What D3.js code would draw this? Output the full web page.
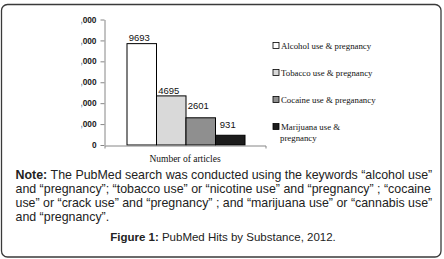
<!DOCTYPE html>
<html>
<head>
<meta charset="utf-8">
<script src="https://cdn.jsdelivr.net/npm/d3@7"></script>
<style>
  body { margin: 0; background: #fff; }
  svg { display: block; }
</style>
</head>
<body>
<svg></svg>
<script>
// values
const categories = ['Alcohol use & pregnancy', 'Tobacco use & pregnancy', 'Cocaine use & preganancy', 'Marijuana use & pregnancy']
const hits = [9693, 4695, 2601, 931]
const yTicks = [0, 2000, 4000, 6000, 8000, 10000, 12000]
const xLabel = ['Number of articles']
const noteLines = [
    'The PubMed search was conducted using the keywords \u201calcohol use\u201d',
    'and \u201cpregnancy\u201d; \u201ctobacco use\u201d or \u201cnicotine use\u201d and \u201cpregnancy\u201d ; \u201ccocaine',
    'use\u201d or \u201ccrack use\u201d and \u201cpregnancy\u201d ; and \u201cmarijuana use\u201d or \u201ccannabis use\u201d',
    'and \u201cpregnancy\u201d.'
]

const
    W = 444,
    H = 259,
    fills = ['#ffffff', '#d9d9d9', '#8f8f8f', '#1c1c1c'],
    labelLift = [3, 2, 9, 7]   // excel puts the data labels a bit unevenly

const svg = d3.select('svg')
    .attr('width', W)
    .attr('height', H)

// rounded frame round the whole figure
svg.append('rect')
    .attr('x', 1.5).attr('y', 4.5)
    .attr('width', 439.5).attr('height', 252.5)
    .attr('rx', 6)
    .attr('fill', '#fff')
    .attr('stroke', '#3a3a3a')
    .attr('stroke-width', 1.3)

const y = d3.scaleLinear()
    .domain([0, 12000])
    .range([145, 19.5])

const xBars = d3.scaleBand()
    .domain(categories)
    .range([127, 245])

const xAxisScale = d3.scaleBand()
    .domain(xLabel)
    .range([104.5, 265.5])

// the source image is cut on the left, so the tick labels are clipped
svg.append('clipPath').attr('id', 'cut')
    .append('rect').attr('x', 81.5).attr('y', 0).attr('width', W).attr('height', H)

const yAxis = svg.append('g')
    .attr('clip-path', 'url(#cut)')
    .append('g')
    .attr('transform', 'translate(104.5,0)')
    .call(d3.axisLeft(y).tickValues(yTicks).tickSizeInner(4).tickSizeOuter(0).tickPadding(4)
        .tickFormat(d3.format(',')))
yAxis.select('.domain').attr('stroke', '#868686')
yAxis.selectAll('.tick line').attr('stroke', '#868686')
yAxis.selectAll('text')
    .attr('font-family', 'Liberation Sans, Arial, sans-serif')
    .attr('font-weight', 'bold')
    .attr('font-size', 8.3)
    .attr('fill', '#222')

svg.selectAll('rect.bar')
    .data(hits)
    .enter()
    .append('rect')
        .attr('class', 'bar')
        .attr('x', (d, i) => xBars(categories[i]))
        .attr('y', d => y(d))
        .attr('width', xBars.bandwidth())
        .attr('height', d => y(0) - y(d))
        .attr('fill', (d, i) => fills[i])
        .attr('stroke', '#000')
        .attr('stroke-width', 1)

svg.selectAll('text.val')
    .data(hits)
    .enter()
    .append('text')
        .attr('class', 'val')
        .attr('x', (d, i) => xBars(categories[i]) + xBars.bandwidth() / 2 - 2.5)
        .attr('y', (d, i) => y(d) - labelLift[i])
        .attr('text-anchor', 'middle')
        .attr('font-family', 'Liberation Sans, Arial, sans-serif')
        .attr('font-size', 9.5)
        .attr('fill', '#111')
        .text(d => d)

const xAxis = svg.append('g')
    .attr('transform', 'translate(0,145.5)')
    .call(d3.axisBottom(xAxisScale).tickSizeInner(0).tickSizeOuter(3).tickPadding(10))
xAxis.select('.domain').attr('stroke', '#868686')
xAxis.selectAll('text')
    .attr('font-family', 'Liberation Serif, Times New Roman, serif')
    .attr('font-size', 9.5)
    .attr('fill', '#111')

// legend
const legend = svg.selectAll('g.leg')
    .data(categories)
    .enter()
    .append('g')
        .attr('class', 'leg')
        .attr('transform', (d, i) => `translate(273, ${42.5 + i * 27})`)

legend.append('rect')
    .attr('width', 6).attr('height', 6)
    .attr('fill', (d, i) => fills[i])
    .attr('stroke', '#000')
    .attr('stroke-width', 0.8)

legend.append('text')
    .attr('x', 8)
    .attr('y', 6)
    .attr('font-family', 'Liberation Serif, Times New Roman, serif')
    .attr('font-size', 8.8)
    .attr('fill', '#111')
    .each(function (d) {
        // the last entry wraps onto a second line
        const parts = d === categories[3] ? ['Marijuana use &', 'pregnancy'] : [d]
        d3.select(this).selectAll('tspan')
            .data(parts)
            .enter()
            .append('tspan')
                .attr('x', (p, j) => j ? 7 : 8)
                .attr('dy', (p, j) => j ? 11 : 0)
                .text(p => p)
    })

// note under the chart
const note = svg.append('text')
    .attr('font-family', 'Liberation Sans, Arial, sans-serif')
    .attr('font-size', 12.4)
    .attr('fill', '#222')

noteLines.forEach((line, i) => {
    const t = note.append('tspan')
        .attr('x', 15.5)
        .attr('y', 178.5 + i * 14.3)
    if (i === 0) {
        t.append('tspan').attr('font-weight', 'bold').text('Note: ')
        t.append('tspan').text(line)
    } else {
        t.text(line)
    }
})

const caption = svg.append('text')
    .attr('x', 223)
    .attr('y', 240.5)
    .attr('text-anchor', 'middle')
    .attr('font-family', 'Liberation Sans, Arial, sans-serif')
    .attr('font-size', 11.5)
    .attr('fill', '#222')
caption.append('tspan').attr('font-weight', 'bold').text('Figure 1:')
caption.append('tspan').text(' PubMed Hits by Substance, 2012.')
</script>
</body>
</html>
